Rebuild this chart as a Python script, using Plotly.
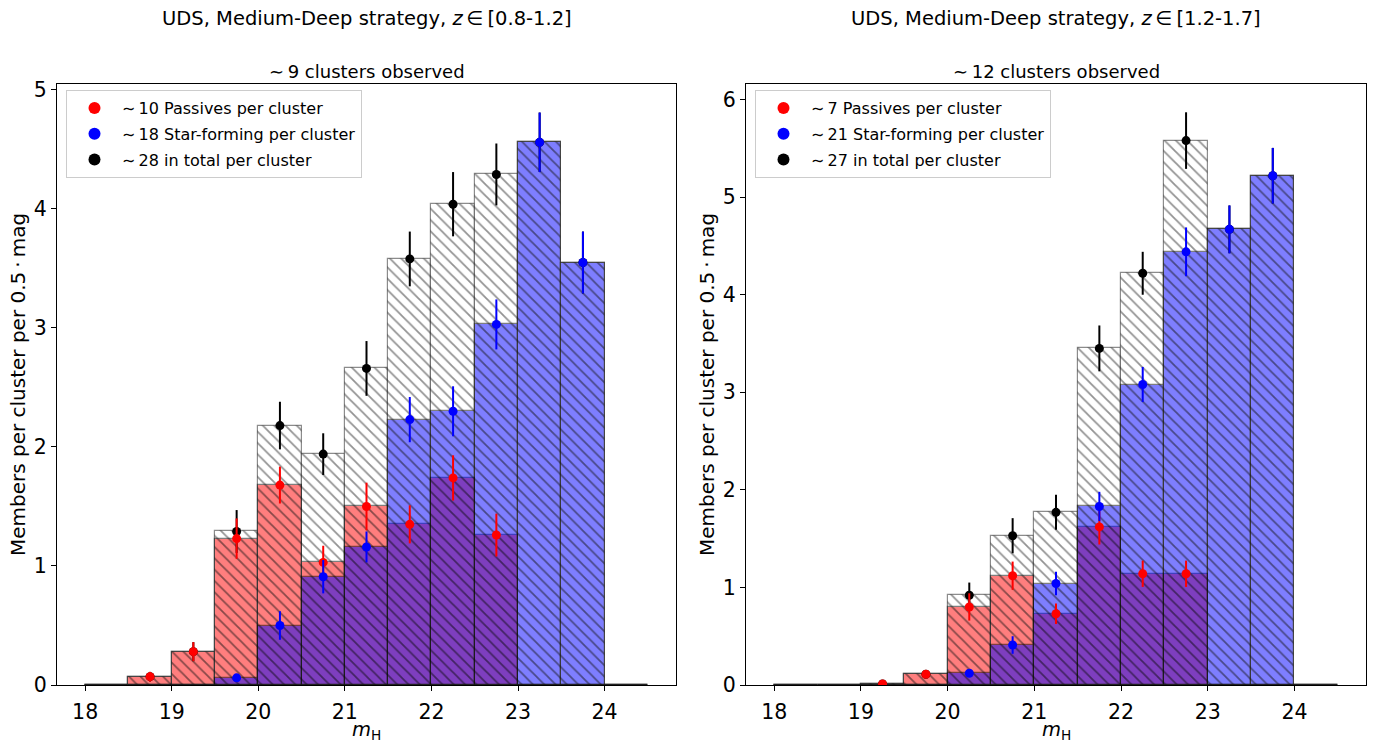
import plotly.graph_objects as go

# Bin centres of the 0.5 mag histogram (edges 18.0 ... 24.5)
mag_centres = [18.25, 18.75, 19.25, 19.75, 20.25, 20.75, 21.25,
               21.75, 22.25, 22.75, 23.25, 23.75, 24.25]
x_ticks = [18, 19, 20, 21, 22, 23, 24]

# z in [0.8-1.2]
pas_lo = [0, 0.07, 0.28, 1.23, 1.68, 1.03, 1.50, 1.35, 1.74, 1.26, 0, 0, 0]
pas_lo_err = [0, 0.04, 0.08, 0.17, 0.155, 0.14, 0.20, 0.16, 0.19, 0.18, 0, 0, 0]
sf_lo = [0, 0, 0, 0.06, 0.50, 0.91, 1.16, 2.23, 2.30, 3.03, 4.56, 3.55, 0]
sf_lo_err = [0, 0, 0, 0.02, 0.12, 0.14, 0.13, 0.19, 0.21, 0.21, 0.25, 0.26, 0]
tot_lo_err = [0, 0.04, 0.08, 0.18, 0.20, 0.175, 0.23, 0.23, 0.27, 0.26, 0.25, 0.26, 0]

# z in [1.2-1.7]
pas_hi = [0, 0, 0.01, 0.11, 0.80, 1.12, 0.73, 1.62, 1.14, 1.14, 0, 0, 0]
pas_hi_err = [0, 0, 0.01, 0.03, 0.14, 0.145, 0.105, 0.18, 0.135, 0.135, 0, 0, 0]
sf_hi = [0, 0, 0, 0, 0.12, 0.41, 1.04, 1.83, 3.08, 4.44, 4.67, 5.22, 0]
sf_hi_err = [0, 0, 0, 0, 0.03, 0.09, 0.12, 0.15, 0.18, 0.25, 0.245, 0.285, 0]
tot_hi_err = [0, 0, 0.01, 0.03, 0.13, 0.18, 0.18, 0.235, 0.22, 0.29, 0.245, 0.285, 0]

panels = [
    dict(title="UDS, Medium-Deep strategy, <i>z</i>\u2009\u2208\u2009[0.8-1.2]",
         sub="\u223c\u20099 clusters observed",
         pas=pas_lo, pas_err=pas_lo_err, sf=sf_lo, sf_err=sf_lo_err, tot_err=tot_lo_err,
         labels=["\u223c\u200910 Passives per cluster",
                 "\u223c\u200918 Star-forming per cluster",
                 "\u223c\u200928 in total per cluster"],
         ymax=5.05, yticks=[0, 1, 2, 3, 4, 5]),
    dict(title="UDS, Medium-Deep strategy, <i>z</i>\u2009\u2208\u2009[1.2-1.7]",
         sub="\u223c\u200912 clusters observed",
         pas=pas_hi, pas_err=pas_hi_err, sf=sf_hi, sf_err=sf_hi_err, tot_err=tot_hi_err,
         labels=["\u223c\u20097 Passives per cluster",
                 "\u223c\u200921 Star-forming per cluster",
                 "\u223c\u200927 in total per cluster"],
         ymax=6.16, yticks=[0, 1, 2, 3, 4, 5, 6]),
]

W, H = 1389, 745
x_domains = [(57 / W, 676 / W), (746 / W, 1366 / W)]
y_domain = (60 / H, 661 / H)
FONT = "DejaVu Sans"

fig = go.Figure()


def hatch(fg):
    return dict(shape="\\", fgcolor=fg, size=8, solidity=0.22, fillmode="overlay")


for i, p in enumerate(panels):
    ax = "" if i == 0 else str(i + 1)
    xa, ya = "x" + ax, "y" + ax
    leg = "legend" + ax
    total = [round(a + b, 3) for a, b in zip(p["pas"], p["sf"])]

    # Histogram bars: total (white, hatched) behind, passives then star-forming on top
    fig.add_trace(go.Bar(
        x=mag_centres, y=total, width=0.5, xaxis=xa, yaxis=ya, showlegend=False,
        marker=dict(color="white", line=dict(color="rgba(0,0,0,0.45)", width=1.2),
                    pattern=hatch("rgba(0,0,0,0.85)")),
        hoverinfo="skip"))
    fig.add_trace(go.Bar(
        x=mag_centres, y=p["pas"], width=0.5, xaxis=xa, yaxis=ya, showlegend=False,
        opacity=0.5,
        marker=dict(color="red", line=dict(color="black", width=1.2),
                    pattern=hatch("black")),
        hoverinfo="skip"))
    fig.add_trace(go.Bar(
        x=mag_centres, y=p["sf"], width=0.5, xaxis=xa, yaxis=ya, showlegend=False,
        opacity=0.5,
        marker=dict(color="blue", line=dict(color="black", width=1.2),
                    pattern=hatch("black")),
        hoverinfo="skip"))

    # Points with error bars (only non-empty bins)
    series = [
        (total, p["tot_err"], "black", p["labels"][2], 3),
        (p["pas"], p["pas_err"], "red", p["labels"][0], 1),
        (p["sf"], p["sf_err"], "blue", p["labels"][1], 2),
    ]
    for vals, errs, col, lab, rank in series:
        xs = [m for m, v in zip(mag_centres, vals) if v > 0]
        ys = [v for v in vals if v > 0]
        es = [e for v, e in zip(vals, errs) if v > 0]
        fig.add_trace(go.Scatter(
            x=xs, y=ys, mode="markers", xaxis=xa, yaxis=ya, name=lab,
            legend=leg, legendrank=rank, legendgroup=f"{leg}-{col}",
            marker=dict(color=col, size=9),
            error_y=dict(type="data", array=es, visible=True, color=col,
                         thickness=2, width=0)))

    common_axis = dict(showline=True, linecolor="black", linewidth=1, mirror=True,
                       ticks="outside", ticklen=5, tickwidth=1, tickcolor="black",
                       showgrid=False, zeroline=False, automargin=False,
                       tickfont=dict(family=FONT, size=20.5, color="black"))
    fig.update_layout({
        "xaxis" + ax: dict(common_axis, domain=x_domains[i], anchor=ya,
                           range=[17.675, 24.825], tickvals=x_ticks,
                           ticklabelstandoff=3),
        "yaxis" + ax: dict(common_axis, domain=y_domain, anchor=xa,
                           range=[0, p["ymax"]], tickvals=p["yticks"],
                           title=dict(text="Members per cluster per 0.5\u2009\u00b7\u2009mag",
                                      standoff=2,
                                      font=dict(family=FONT, size=20, color="black"))),
        leg: dict(x=(66 if i == 0 else 755) / W, y=655 / H, xanchor="left", yanchor="top",
                  bgcolor="white", bordercolor="#cccccc", borderwidth=1,
                  font=dict(family=FONT, size=16, color="black"),
                  tracegroupgap=2, itemwidth=45, itemsizing="constant"),
    })

    cx = (x_domains[i][0] + x_domains[i][1]) / 2
    # x-axis label
    fig.add_annotation(text="<i>m</i><sub>H</sub>", x=cx, y=0, yshift=0,
                       xref="paper", yref="paper", xanchor="center", yanchor="bottom",
                       showarrow=False, font=dict(family=FONT, size=19.5, color="black"))
    fig.add_annotation(text=p["title"], x=cx, y=1 - 18 / H, xref="paper", yref="paper",
                       xanchor="center", yanchor="middle", showarrow=False,
                       font=dict(family=FONT, size=19.5, color="black"))
    fig.add_annotation(text=p["sub"], x=cx, y=1 - 71 / H, xref="paper", yref="paper",
                       xanchor="center", yanchor="middle", showarrow=False,
                       font=dict(family=FONT, size=18, color="black"))

fig.update_layout(
    width=W, height=H, barmode="overlay", bargap=0,
    margin=dict(l=0, r=0, t=0, b=0),
    paper_bgcolor="white", plot_bgcolor="white",
    font=dict(family=FONT, color="black"),
)

fig.write_html("out.html")
